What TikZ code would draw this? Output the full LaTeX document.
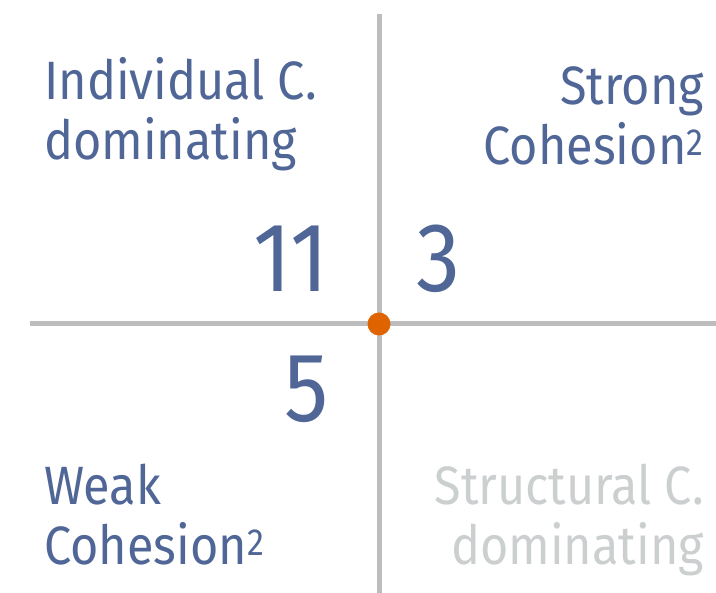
\documentclass[tikz,border=0pt]{standalone}
\usepackage{fontspec}
\setmainfont{Fira Sans}[FakeStretch=0.9]
\usepackage{xcolor}
\usepackage{tikz}
\usetikzlibrary{positioning}
\definecolor{axisgray}{HTML}{BDBDBD}
\definecolor{quadblue}{HTML}{4F6696}
\definecolor{quadgray}{HTML}{CCCFD0}
\definecolor{origin}{HTML}{DF6400}

\begin{document}
\begin{tikzpicture}[x=1pt, y=-1pt,
  quadlbl/.style = {inner sep=0pt, text=quadblue, font=\fontsize{54}{60}\selectfont},
  countlbl/.style = {inner sep=0pt, text=quadblue, font=\fontsize{98}{98}\selectfont},
  axis/.style = {draw=axisgray, line width=5pt},
]
\useasboundingbox (0,0) rectangle (716,593);
% axes
\coordinate (xl) at (30,324);
\coordinate (xr) at (716,324);
\coordinate (yt) at (379,14);
\coordinate (yb) at (379,593);
\draw[axis] (xl) -- (xr);
\draw[axis] (yt) -- (yb);
\node[circle, fill=origin, inner sep=0pt, minimum size=23pt] (orig) at (379,324) {};
% quadrant labels (anchored at the last baseline)
\node[quadlbl, anchor=base west, align=left] (indiv) at (44,160) {Individual C.\\dominating};
\node[quadlbl, anchor=base east, align=right] (strong) at (704,165) {Strong\\Cohesion\textsuperscript{2}};
\node[quadlbl, anchor=base west, align=left] (weak) at (44,565) {Weak\\Cohesion\textsuperscript{2}};
\node[quadlbl, anchor=base east, align=right, text=quadgray] (struct) at (704,565) {Structural C.\\dominating};
% counts
\node[countlbl, anchor=base east] (n11) at (329,292) {11};
\node[countlbl, anchor=base west] (n3) at (416,292) {3};
\node[countlbl, anchor=base east] (n5) at (329,422) {5};
\end{tikzpicture}
\end{document}
